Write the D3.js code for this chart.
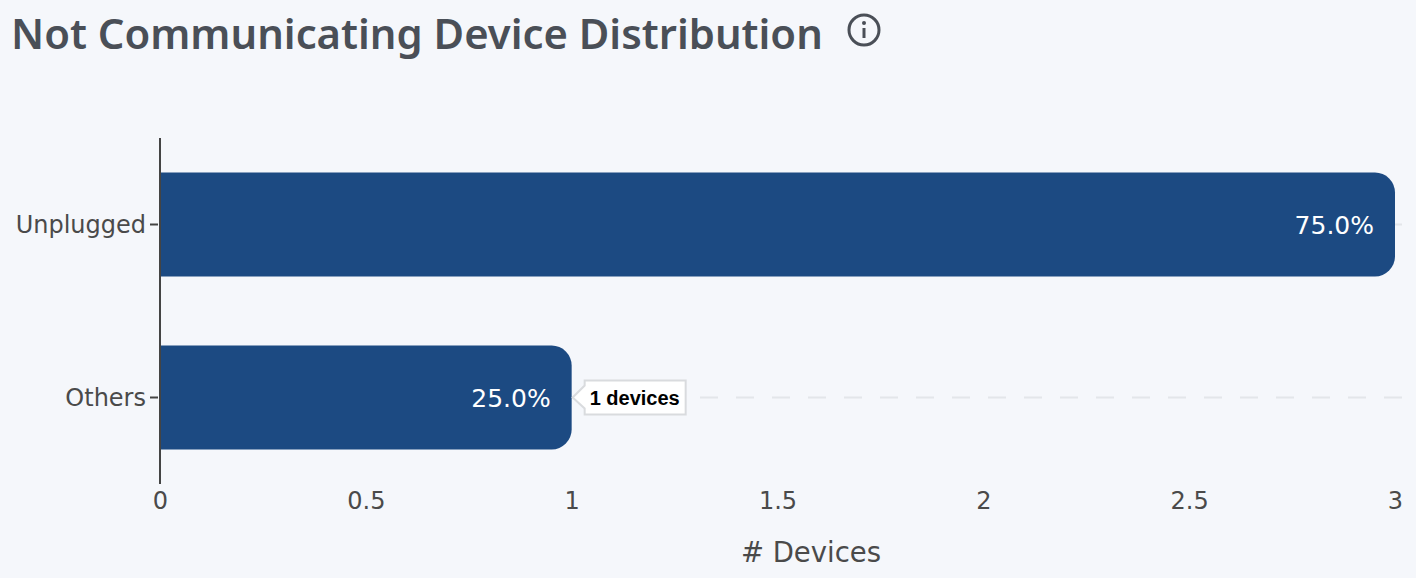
<!DOCTYPE html>
<html><head><meta charset="utf-8">
<script src="https://cdn.jsdelivr.net/npm/d3@7/dist/d3.min.js"></script>
<style>html,body{margin:0;padding:0;background:#f5f7fb;overflow:hidden}svg{display:block}</style>
</head><body><svg id="c" width="1416" height="578"></svg>
<script>
const categories = ["Unplugged", "Others"];
const deviceCounts = [3, 1];
const percentLabels = ["75.0%", "25.0%"];
const xTicks = [0, 0.5, 1, 1.5, 2, 2.5, 3];
const titleText = "Not Communicating Device Distribution";
const axisTitle = "# Devices";
const hoverText = "1 devices";

const svg = d3.select("#c");
const font = "'DejaVu Sans', sans-serif";
const x = d3.scaleLinear().domain([0, 3]).range([160, 1395]);
const y = d3.scaleBand().domain(categories).range([138, 484]).paddingInner(0.4).paddingOuter(0.2);

svg.append("text").attr("x", 11).attr("y", 49).attr("fill", "#4a4f57")
  .attr("font-family", "'Noto Sans', sans-serif").attr("font-weight", 600).attr("font-size", 41.8)
  .attr("id","title").text(titleText);

const info = svg.append("g").attr("transform", "translate(864,30)");
info.append("circle").attr("r", 15).attr("fill", "none").attr("stroke", "#4a4f57").attr("stroke-width", 3);
info.append("circle").attr("cy", -7).attr("r", 2).attr("fill", "#4a4f57");
info.append("line").attr("y1", -2).attr("y2", 8).attr("stroke", "#4a4f57").attr("stroke-width", 3);

const grid = svg.append("g");
categories.forEach(c => {
  const yy = y(c) + y.bandwidth() / 2;
  grid.append("line").attr("x1", 160).attr("x2", 1404).attr("y1", yy).attr("y2", yy)
    .attr("stroke", "#e3e6ea").attr("stroke-width", 2).attr("stroke-dasharray", "18,18");
});

function barPath(c, v) {
  const x0 = x(0), x1 = x(v), y0 = y(c), y1 = y0 + y.bandwidth(), r = 20;
  const p = d3.path();
  p.moveTo(x0, y0); p.lineTo(x1 - r, y0); p.arcTo(x1, y0, x1, y0 + r, r);
  p.lineTo(x1, y1 - r); p.arcTo(x1, y1, x1 - r, y1, r); p.lineTo(x0, y1); p.closePath();
  return p.toString();
}
svg.append("g").selectAll("path").data(categories).join("path")
  .attr("d", (c, i) => barPath(c, deviceCounts[i])).attr("fill", "#1c4a82");

svg.append("g").selectAll("text").data(categories).join("text")
  .attr("x", (c, i) => x(deviceCounts[i]) - 21)
  .attr("y", c => y(c) + y.bandwidth() / 2 + 9)
  .attr("text-anchor", "end").attr("fill", "#ffffff")
  .attr("font-family", font).attr("font-size", 25)
  .text((c, i) => percentLabels[i]);

const yAxis = svg.append("g").attr("transform", "translate(160,0)")
  .call(d3.axisLeft(y).tickSize(10).tickPadding(4));
yAxis.select(".domain").remove();
yAxis.append("line").attr("y1", 138).attr("y2", 484).attr("stroke", "#444").attr("stroke-width", 2);
yAxis.selectAll(".tick line").attr("stroke", "#444").attr("stroke-width", 2).attr("x2", -2 - 8).attr("x1", -2);
yAxis.selectAll(".tick text").attr("fill", "#4a4a4a").attr("font-family", font).attr("font-size", 24).attr("y", 1);

const xAxis = svg.append("g").attr("transform", "translate(0,484)")
  .call(d3.axisBottom(x).tickValues(xTicks).tickFormat(d3.format("~g")).tickSize(0).tickPadding(8));
xAxis.select(".domain").remove();
xAxis.selectAll(".tick text").attr("fill", "#4a4a4a").attr("font-family", font).attr("font-size", 24);

svg.append("text").attr("x", 811).attr("y", 562).attr("text-anchor", "middle").attr("fill", "#4a4a4a")
  .attr("font-family", font).attr("font-size", 27.5).text(axisTitle);

// hover tooltip anchored at the "Others" bar end
const tipX = x(deviceCounts[1]), tipY = y(categories[1]) + y.bandwidth() / 2;
const tip = svg.append("g").attr("transform", `translate(${tipX},${tipY})`);
tip.append("path").attr("d", "M1,0L13,-12V-17H114V17H13V11Z")
  .attr("fill", "#fff").attr("stroke", "#d9dbde").attr("stroke-width", 2);
tip.append("text").attr("x", 18).attr("y", 7).attr("fill", "#000")
  .attr("font-family", "'Liberation Sans', Arial, sans-serif").attr("font-weight", 700).attr("font-size", 20)
  .text(hoverText);
</script></body></html>
